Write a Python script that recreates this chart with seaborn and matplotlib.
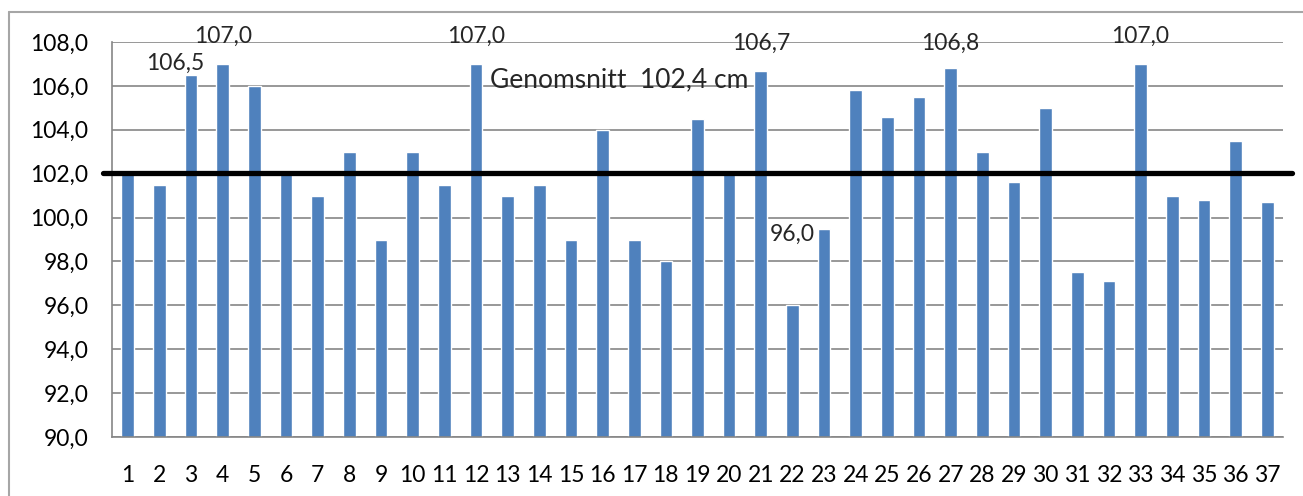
#hojdstapel.py
"""Bar chart of heights with average line"""
import matplotlib
matplotlib.use('Agg')
import matplotlib.pyplot as plt
from matplotlib.lines import Line2D
import numpy as np
import pandas as pd
import seaborn as sns

#data
persons = [str(i) for i in range(1, 38)]
heights = [102.0, 101.5, 106.5, 107.0, 106.0, 102.0, 101.0, 103.0, 99.0, 103.0,
           101.5, 107.0, 101.0, 101.5, 99.0, 104.0, 99.0, 98.0, 104.5, 102.0,
           106.7, 96.0, 99.5, 105.8, 104.6, 105.5, 106.8, 103.0, 101.6, 105.0,
           97.5, 97.1, 107.0, 101.0, 100.8, 103.5, 100.7]
average_line = 102.05
average_text = 'Genomsnitt  102,4 cm'
labelled = ['3', '4', '12', '21', '22', '27', '33']

#label offsets in pixels (dx, dy above bar top)
label_offsets = {'3': (-16, 12), '4': (0, 28), '12': (0, 28), '21': (0, 27),
                 '22': (0, 71), '27': (0, 25), '33': (0, 28)}

def fmt(v):
    return f'{v:.1f}'.replace('.', ',')

def main():
    sns.set_theme(style='white')
    plt.rcParams['font.family'] = ['Lato', 'DejaVu Sans']
    grey = '#868686'

    df = pd.DataFrame({'person': persons, 'height': heights})

    fig = plt.figure(figsize=(13.03, 4.96), dpi=100)
    ax = fig.add_axes([112 / 1303, 59 / 496, 1171 / 1303, 395 / 496])

    sns.barplot(data=df, x='person', y='height', color='#4F81BD', width=0.4,
                saturation=1, ax=ax, zorder=2)
    ax.set_xlim(-0.5, len(persons) - 0.5)
    ax.set_ylim(90, 108)
    ax.set(xlabel='', ylabel='')

    #y ticks and grid
    yt = np.arange(90, 109, 2)
    ax.set_yticks(yt)
    ax.set_yticklabels([fmt(v) for v in yt])
    ax.yaxis.grid(True, color=grey, lw=1.2, zorder=0)
    ax.set_axisbelow(True)

    #x ticks between categories
    ax.set_xticks(np.arange(-0.5, len(persons), 1), minor=True)
    ax.tick_params(axis='x', which='major', length=0, pad=20, labelsize=16.5, colors='black')
    ax.tick_params(axis='x', which='minor', length=8, width=1.2, color=grey, direction='out')
    ax.tick_params(axis='y', length=9, width=1.2, color=grey, direction='out', pad=8,
                   labelsize=16.5, labelcolor='black')

    for s in ['top', 'right']:
        ax.spines[s].set_visible(False)
    for s in ['left', 'bottom']:
        ax.spines[s].set_color(grey)
        ax.spines[s].set_linewidth(1.2)

    #average line sticking out beyond the plot area
    over = 9 / 31.65
    ax.plot([-0.5 - over, len(persons) - 0.5 + over], [average_line, average_line],
            color='black', lw=3.8, clip_on=False, zorder=3)
    ax.text(11.44, 106.27, average_text, fontsize=19, va='center', ha='left', zorder=4)

    #value labels
    for p in labelled:
        i = persons.index(p)
        dx, dy = label_offsets[p]
        ax.annotate(fmt(heights[i]), (i, heights[i]), xytext=(dx * 0.72, dy * 0.72),
                    textcoords='offset points', ha='center', va='center',
                    fontsize=16.5, annotation_clip=False, zorder=4)

    #outer chart border (top and left only visible)
    fig.add_artist(Line2D([9 / 1303, 1], [1 - 12 / 496, 1 - 12 / 496], color='#a6a6a6', lw=1.5))
    fig.add_artist(Line2D([9 / 1303, 9 / 1303], [0, 1 - 12 / 496], color='#a6a6a6', lw=1.5))

    fig.savefig('out.png', dpi=100)

if __name__ == '__main__':
    main()
